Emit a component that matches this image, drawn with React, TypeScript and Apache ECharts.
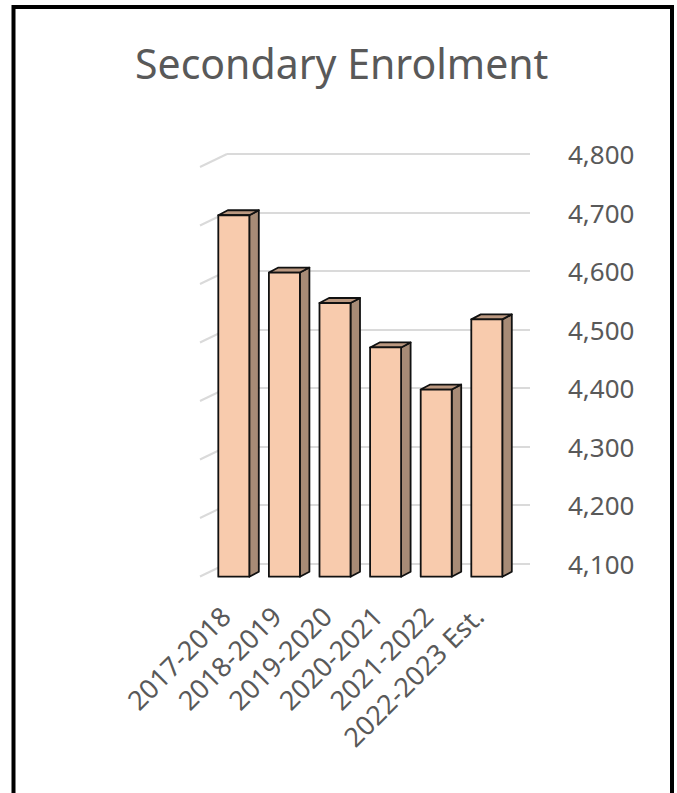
import React, { useEffect, useRef } from "react";
import * as echarts from "echarts";

const categories = ["2017-2018", "2018-2019", "2019-2020", "2020-2021", "2021-2022", "2022-2023 Est."];
const enrolment = [4718, 4620, 4568, 4492, 4420, 4540];
const tickValues = [4100, 4200, 4300, 4400, 4500, 4600, 4700, 4800];
const titleText = "Secondary Enrolment";

const FONT = "'Noto Sans', 'Open Sans', sans-serif";
const TEXT = "#595959";

export default function App() {
  const ref = useRef<HTMLDivElement>(null);
  useEffect(() => {
    document.body.style.margin = "0";
    const chart = echarts.init(ref.current!, null, { renderer: "svg" });
    const DX = 9.5, DY = 5, BW = 31;
    const SLX = 27, SLY = 13;
    chart.setOption({
      animation: false,
      backgroundColor: "#ffffff",
      grid: [
        { left: 227, right: 147, top: 154, bottom: 229.5 },
        { left: 208.5, right: 164.9, top: 167.3, bottom: 216.3 },
      ],
      xAxis: [
        { type: "category", gridIndex: 0, data: categories, show: false },
        {
          type: "category", gridIndex: 1, data: categories,
          axisLine: { show: false }, axisTick: { show: false },
          axisLabel: {
            rotate: 45, fontSize: 27, fontFamily: FONT, color: TEXT, margin: 26, interval: 0,
            padding: [0, 12, 0, 0],
          },
        },
      ],
      yAxis: [
        {
          type: "value", gridIndex: 0, min: 4100, max: 4800, interval: 100, position: "right",
          axisLine: { show: false }, axisTick: { show: false },
          splitLine: { show: true, lineStyle: { color: "#dadada", width: 2 } },
          axisLabel: {
            margin: 38, fontSize: 26, fontFamily: FONT, color: TEXT,
            formatter: (v: number) => v.toLocaleString("en-US"),
          },
        },
        { type: "value", gridIndex: 1, min: 4100, max: 4800, interval: 100, show: false },
      ],
      series: [
        {
          type: "custom", xAxisIndex: 0, yAxisIndex: 0, z: 1,
          data: tickValues.map((t) => [0, t]),
          renderItem: (params: any, api: any) => {
            const y = api.coord([0, api.value(1)])[1];
            const x0 = params.coordSys.x;
            return {
              type: "line",
              shape: { x1: x0 - SLX, y1: y + SLY, x2: x0, y2: y },
              style: { stroke: "#dadada", lineWidth: 2 },
            };
          },
        },
        {
          type: "custom", xAxisIndex: 1, yAxisIndex: 1, z: 5,
          data: enrolment.map((v, i) => [i, v]),
          renderItem: (params: any, api: any) => {
            const top = api.coord([api.value(0), api.value(1)]);
            const base = api.coord([api.value(0), 4100]);
            const l = top[0] - BW / 2, r = top[0] + BW / 2;
            const t = top[1], b = base[1];
            const stroke = { stroke: "#111", lineWidth: 1.8, lineJoin: "round" };
            return {
              type: "group",
              children: [
                {
                  type: "polygon",
                  shape: { points: [[r, t], [r + DX, t - DY], [r + DX, b - DY], [r, b]] },
                  style: { fill: "#a78b76", ...stroke },
                },
                {
                  type: "polygon",
                  shape: { points: [[l, t], [l + DX, t - DY], [r + DX, t - DY], [r, t]] },
                  style: { fill: "#bb9880", ...stroke },
                },
                {
                  type: "rect",
                  shape: { x: l, y: t, width: BW, height: b - t },
                  style: { fill: "#f8cbad", ...stroke },
                },
              ],
            };
          },
        },
      ],
      graphic: [
        {
          type: "rect", z: 100,
          shape: { x: 13.5, y: 7, width: 658.5, height: 830 },
          style: { fill: "none", stroke: "#000", lineWidth: 4 },
        },
        {
          type: "text", x: 341.7, y: 63, z: 100,
          style: {
            text: titleText, fontSize: 41, fontFamily: FONT, fill: TEXT,
            align: "center", verticalAlign: "middle",
          },
        },
      ],
    });
    return () => chart.dispose();
  }, []);
  return <div ref={ref} style={{ width: 677, height: 793 }} />;
}
